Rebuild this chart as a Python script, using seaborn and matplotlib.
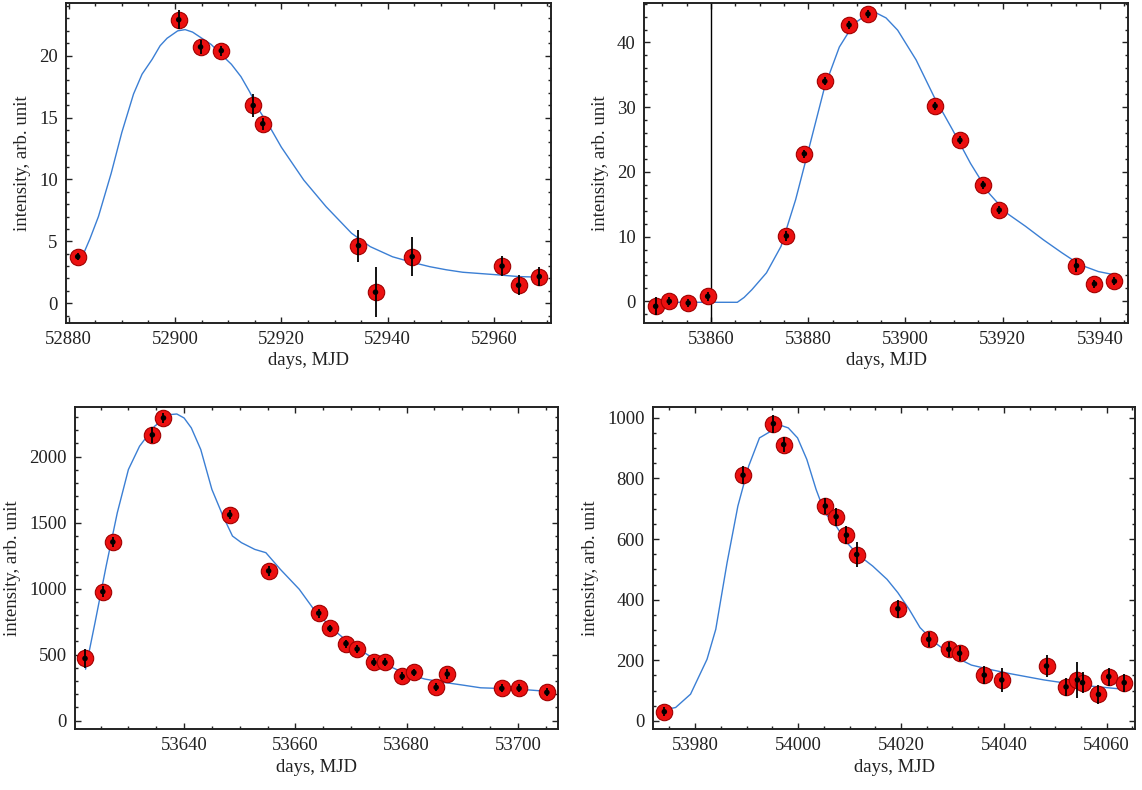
import numpy as np
import pandas as pd
import matplotlib
matplotlib.use("Agg")
import matplotlib.pyplot as plt
from matplotlib.ticker import MultipleLocator
import seaborn as sns

# ---------------- data ----------------
# Panel 1
p1_day = [52881.7, 52900.7, 52904.8, 52908.7, 52914.7, 52916.5, 52934.5, 52937.7, 52944.6, 52961.5, 52964.6, 52968.5]
p1_int = [3.76, 22.9, 20.7, 20.4, 15.97, 14.5, 4.65, 0.89, 3.76, 3.0, 1.45, 2.15]
p1_err = [0.3, 0.75, 0.6, 0.4, 0.9, 0.5, 1.3, 2.0, 1.55, 0.8, 0.8, 0.75]
p1_fit_day = [52882.6, 52884.0, 52885.6, 52888.0, 52890.0, 52892.2, 52893.8, 52895.7, 52897.2, 52898.5, 52900.5,
              52901.9, 52903.3, 52904.7, 52906.8, 52908.9, 52910.6, 52912.4, 52914.0, 52915.8, 52918.0,
              52920.0, 52924.2, 52928.4, 52933.2, 52936.7, 52940.9, 52944.6, 52947.9, 52951.0, 52954.1,
              52961.0, 52964.6, 52968.7]
p1_fit_int = [3.8, 5.2, 7.0, 10.5, 13.8, 16.9, 18.5, 19.7, 20.8, 21.4, 22.0,
              22.1, 21.9, 21.5, 20.9, 20.0, 19.3, 18.3, 17.1, 15.6, 14.1,
              12.6, 9.95, 7.8, 5.65, 4.57, 3.75, 3.3, 2.95, 2.7, 2.5,
              2.28, 2.15, 2.1]

# Panel 2
p2_day = [53848.6, 53851.4, 53855.3, 53859.3, 53875.5, 53879.2, 53883.4, 53888.4, 53892.3, 53906.1, 53911.2,
          53916.0, 53919.3, 53935.2, 53938.9, 53943.0]
p2_int = [-0.77, 0.0, -0.26, 0.77, 10.1, 22.8, 34.0, 42.7, 44.4, 30.2, 24.9, 18.0, 14.1, 5.5, 2.7, 3.1]
p2_err = [1.4, 0.6, 0.6, 0.7, 0.8, 0.6, 0.6, 0.6, 0.6, 0.6, 0.6, 0.6, 0.6, 1.0, 0.6, 0.6]
p2_fit_day = [53848.6, 53855.0, 53860.0, 53865.4, 53866.8, 53868.4, 53871.4, 53874.4, 53877.4, 53880.4, 53883.4,
              53886.4, 53889.4, 53892.4, 53893.9, 53896.0, 53898.4, 53902.2, 53905.9, 53909.7, 53913.4,
              53917.2, 53920.9, 53924.7, 53928.4, 53932.2, 53935.9, 53939.7, 53943.0]
p2_fit_int = [-0.15, -0.15, -0.15, -0.15, 0.6, 1.8, 4.4, 8.5, 15.7, 24.4, 33.2,
              39.3, 42.9, 44.5, 44.6, 43.8, 41.9, 37.3, 31.6, 26.5, 21.3,
              16.7, 13.6, 11.6, 9.5, 7.5, 5.66, 4.6, 4.1]
p2_marker_line = 53860

# Panel 3
p3_day = [53622.2, 53625.4, 53627.2, 53634.3, 53636.3, 53648.2, 53655.2, 53664.2, 53666.2, 53669.1, 53671.1,
          53674.1, 53676.1, 53679.2, 53681.3, 53685.3, 53687.3, 53697.1, 53700.2, 53705.2]
p3_int = [471, 977, 1353, 2164, 2292, 1559, 1134, 814, 698, 584, 542, 441, 441, 335, 365, 252, 353, 244, 244, 214]
p3_err = [70, 40, 40, 60, 40, 35, 35, 35, 30, 30, 30, 30, 30, 30, 30, 30, 35, 30, 30, 30]
p3_fit_day = [53622.3, 53624.0, 53626.0, 53628.0, 53630.0, 53632.0, 53634.7, 53637.3, 53638.7, 53640.0, 53641.3,
              53643.0, 53645.0, 53647.0, 53648.7, 53650.3, 53652.7, 53654.7, 53657.3, 53660.7, 53663.3,
              53666.7, 53670.0, 53673.3, 53676.7, 53680.0, 53683.3, 53686.7, 53690.0, 53693.3, 53696.7,
              53700.0, 53705.3]
p3_fit_int = [390, 743, 1171, 1574, 1902, 2078, 2229, 2317, 2322, 2292, 2217,
              2053, 1751, 1549, 1398, 1348, 1297, 1272, 1146, 995, 844,
              693, 579, 491, 416, 353, 315, 290, 270, 249, 244,
              239, 222]

# Panel 4
p4_day = [53974.0, 53989.3, 53995.2, 53997.2, 54005.3, 54007.4, 54009.4, 54011.4, 54019.4, 54025.4, 54029.3,
          54031.4, 54036.2, 54039.6, 54048.3, 54052.1, 54054.3, 54055.3, 54058.4, 54060.4, 54063.4]
p4_int = [30, 811, 981, 912, 709, 674, 613, 549, 370, 269, 236, 223, 151, 135, 181, 112, 135, 126, 87, 146, 126]
p4_err = [15, 30, 30, 25, 25, 30, 30, 40, 30, 25, 25, 25, 30, 40, 35, 30, 60, 35, 30, 30, 30]
p4_fit_day = [53974.5, 53976.2, 53979.1, 53982.3, 53984.0, 53986.2, 53988.3, 53990.4, 53992.5, 53995.3, 53996.7,
              53998.1, 53999.9, 54001.7, 54003.5, 54005.2, 54007.4, 54009.5, 54011.6, 54014.5, 54017.3,
              54019.4, 54021.6, 54023.7, 54026.6, 54030.1, 54033.7, 54037.2, 54040.8, 54044.3, 54047.8,
              54051.4, 54054.9, 54058.5, 54063.4]
p4_fit_int = [38, 44, 88, 203, 302, 522, 709, 841, 934, 962, 975,
              967, 934, 863, 764, 687, 643, 588, 549, 511, 467,
              423, 368, 308, 258, 214, 184, 170, 157, 146, 135,
              126, 118, 112, 104]

x_label = "days, MJD"
y_label = "intensity, arb. unit"

# ---------------- style ----------------
sns.set_theme(style="ticks")
plt.rcParams["font.family"] = ["Liberation Serif", "DejaVu Serif"]
plt.rcParams["font.size"] = 13

fig = plt.figure(figsize=(11.42, 7.90), dpi=100)

panels = [
    dict(rect=[66, 3, 551, 323], day=p1_day, val=p1_int, err=p1_err, fd=p1_fit_day, fv=p1_fit_int,
         xlim=(52879.5, 52970.7), ylim=(-1.6, 24.25), xmaj=20, xmin=5, ymaj=5, ymin=1),
    dict(rect=[644, 3, 1128, 323], day=p2_day, val=p2_int, err=p2_err, fd=p2_fit_day, fv=p2_fit_int,
         xlim=(53846.2, 53945.8), ylim=(-3.35, 46.1), xmaj=20, xmin=5, ymaj=10, ymin=2),
    dict(rect=[75, 407, 558, 729], day=p3_day, val=p3_int, err=p3_err, fd=p3_fit_day, fv=p3_fit_int,
         xlim=(53620.4, 53707.2), ylim=(-63, 2375), xmaj=20, xmin=5, ymaj=500, ymin=100),
    dict(rect=[653, 407, 1135, 729], day=p4_day, val=p4_int, err=p4_err, fd=p4_fit_day, fv=p4_fit_int,
         xlim=(53971.8, 54065.5), ylim=(-27, 1036), xmaj=20, xmin=5, ymaj=200, ymin=50),
]

W, H = 1142, 790
for i, p in enumerate(panels):
    l, t, r, b = p["rect"]
    ax = fig.add_axes([l / W, 1 - b / H, (r - l) / W, (b - t) / H])
    fit = pd.DataFrame({"day": p["fd"], "val": p["fv"]})
    pts = pd.DataFrame({"day": p["day"], "val": p["val"], "err": p["err"]})

    sns.lineplot(data=fit, x="day", y="val", ax=ax, color="#3b7fd4", lw=1.0,
                 sort=False, estimator=None, zorder=2)
    sns.scatterplot(data=pts, x="day", y="val", ax=ax, s=140, color="#ec1010",
                    edgecolor="#a00000", linewidth=0.8, zorder=3)
    ax.errorbar(pts["day"], pts["val"], yerr=pts["err"], fmt="none", ecolor="black",
                elinewidth=1.3, capsize=0, zorder=4)
    sns.scatterplot(data=pts, x="day", y="val", ax=ax, s=16, color="black",
                    edgecolor="none", zorder=5)
    if i == 1:
        ax.axvline(p2_marker_line, color="black", lw=1.0, zorder=1)

    ax.set_xlim(*p["xlim"])
    ax.set_ylim(*p["ylim"])
    ax.xaxis.set_major_locator(MultipleLocator(p["xmaj"]))
    ax.xaxis.set_minor_locator(MultipleLocator(p["xmin"]))
    ax.yaxis.set_major_locator(MultipleLocator(p["ymaj"]))
    ax.yaxis.set_minor_locator(MultipleLocator(p["ymin"]))
    ax.tick_params(which="both", direction="in", top=True, right=True, colors="#222222",
                   labelsize=13.5, labelcolor="#222222")
    ax.tick_params(which="major", length=4, width=1.0, pad=6)
    ax.tick_params(which="minor", length=2.5, width=1.0)
    ax.xaxis.get_major_formatter().set_useOffset(False)
    for s in ax.spines.values():
        s.set_color("#222222")
        s.set_linewidth(1.4)
    ax.set_xlabel(x_label, fontsize=13.5, color="#222222", labelpad=3)
    ax.set_ylabel(y_label, fontsize=13.5, color="#222222", labelpad=6)
    ax.set_facecolor("white")

fig.savefig("out.png", dpi=100, facecolor="white")
